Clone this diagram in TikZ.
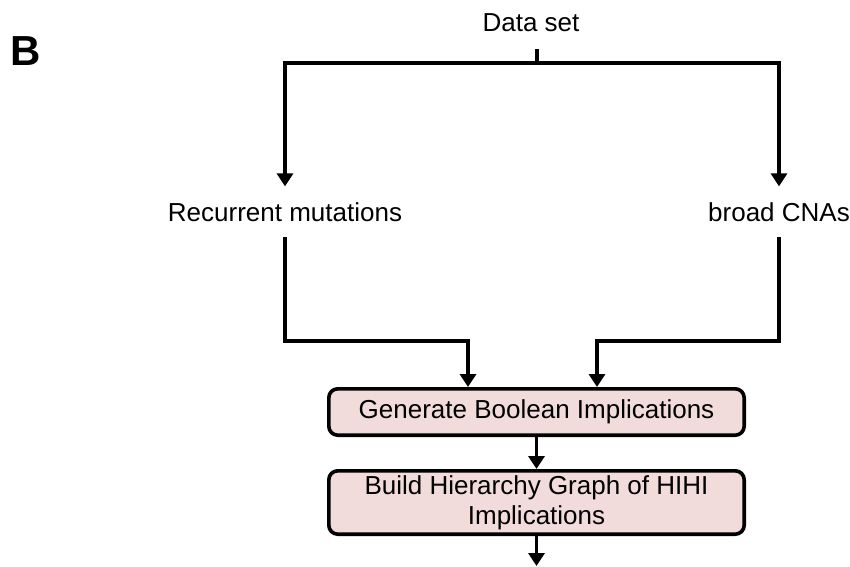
\documentclass[tikz,border=0pt]{standalone}
\usepackage{fontspec}
\setmainfont{Liberation Sans}
\usetikzlibrary{arrows.meta}
\definecolor{boxpink}{RGB}{242,220,219}
\begin{document}
\begin{tikzpicture}[x=1pt,y=1pt,
    line width=3.6pt,
    lbl/.style={inner sep=14pt,font=\fontsize{26}{30}\selectfont},
    stepbox/.style={draw,fill=boxpink,rounded corners=9pt,minimum width=415.4pt,
      align=center,inner sep=2pt,font=\fontsize{26}{30}\selectfont},
    arr/.style={-{Triangle[width=16pt,length=13pt]}}]
     % Frame
     \useasboundingbox (0,0) rectangle (850,-566);
     % Definitions
     \def\bx{536.5}
     % Panel letter
     \node[anchor=base west,inner sep=0pt,font=\fontsize{42}{42}\selectfont\bfseries] (panel) at (9,-65) {B};
     % Labels
     \node[lbl,anchor=base] (data) at (531,-31) {Data set};
     \node[lbl,anchor=base] (rec) at (285,-221) {Recurrent mutations};
     \node[lbl,anchor=base] (cna) at (779,-221) {broad CNAs};
     % Boxes
     \node[stepbox,minimum height=46.4pt] (gen) at (\bx,-412) {Generate Boolean Implications};
     \node[stepbox,minimum height=63.4pt] (hier) at (\bx,-502.5) {Build Hierarchy Graph of HIHI\\Implications};
     \coordinate (split) at (537,-63);
     \coordinate (out) at (\bx,-566);
     % Split
     \draw[shorten <=2pt] (data.south -| split) -- (split);
     \foreach \n in {rec,cna} {
      \draw[arr] (split) -| (\n.north);
     };
     % Merge
     \draw[arr] (rec.south) -- ++(0,-104) -| ([xshift=-68.5pt]gen.north);
     \draw[arr] (cna.south) -- ++(0,-104) -| ([xshift=60.5pt]gen.north);
     % Chain
     \draw[arr] (gen) -- (hier);
     \draw[arr] (hier) -- (out);
    \end{tikzpicture}
\end{document}
